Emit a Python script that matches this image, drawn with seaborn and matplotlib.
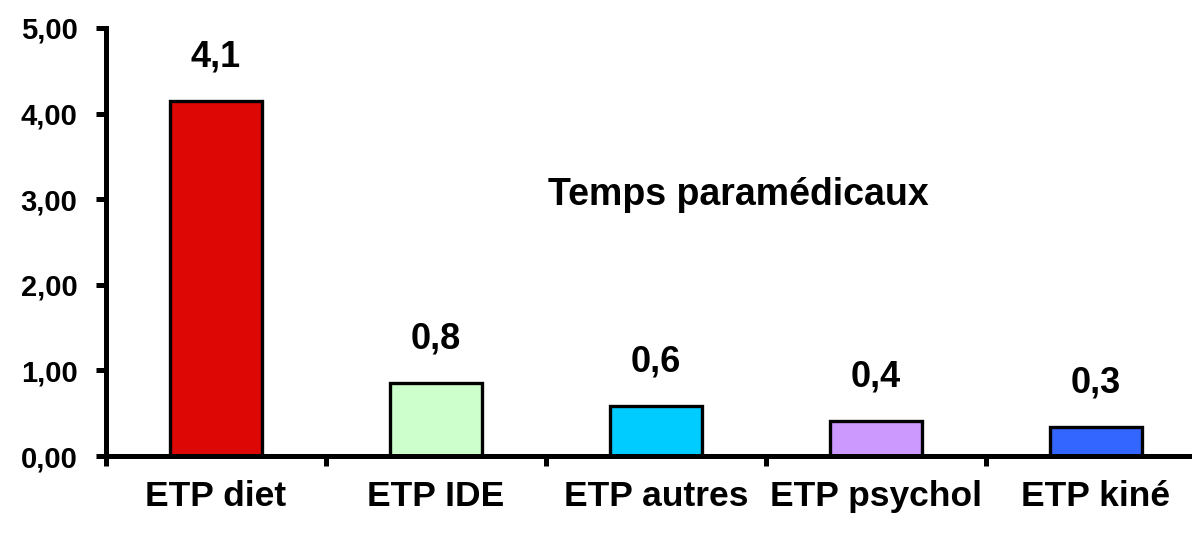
import matplotlib
matplotlib.use("Agg")
import matplotlib.pyplot as plt
import seaborn as sns
import pandas as pd
import numpy as np
from matplotlib.ticker import FixedLocator

categories = ["ETP diet", "ETP IDE", "ETP autres", "ETP psychol", "ETP kiné"]
values = [4.15, 0.85, 0.58, 0.41, 0.34]
value_labels = ["4,1", "0,8", "0,6", "0,4", "0,3"]
colors = ["#DD0805", "#CCFFCC", "#00CCFF", "#CC99FF", "#3366FF"]
ytick_values = [0, 1, 2, 3, 4, 5]
ytick_labels = ["0,00", "1,00", "2,00", "3,00", "4,00", "5,00"]
title = "Temps paramédicaux"

sns.set_theme(style="white")
plt.rcParams["font.family"] = ["Liberation Sans", "DejaVu Sans"]
plt.rcParams["font.weight"] = "bold"
plt.rcParams["text.color"] = "black"
plt.rcParams["xtick.color"] = "black"
plt.rcParams["ytick.color"] = "black"
plt.rcParams["xtick.labelcolor"] = "black"
plt.rcParams["ytick.labelcolor"] = "black"

fig = plt.figure(figsize=(11.92, 5.34), dpi=100)
ax = fig.add_axes([106 / 1192, 78 / 534, 1100 / 1192, 428 / 534])

df = pd.DataFrame({"cat": categories, "val": values})
sns.barplot(data=df, x="cat", y="val", hue="cat", palette=colors, legend=False,
            width=0.42, edgecolor="black", linewidth=2.4, saturation=1, ax=ax)

ax.set_xlim(-0.5, len(categories) - 0.5)
ax.set_ylim(0, 5)
ax.set_xlabel("")
ax.set_ylabel("")

for sp in ["top", "right"]:
    ax.spines[sp].set_visible(False)
for sp in ["left", "bottom"]:
    ax.spines[sp].set_linewidth(3.6)
    ax.spines[sp].set_color("black")

ax.set_yticks(ytick_values)
ax.set_yticklabels(ytick_labels, fontsize=21, fontweight="bold", color="black")
ax.tick_params(axis="y", direction="out", length=7.5, width=3.6, color="black", pad=13, left=True)

ax.set_xticks(range(len(categories)))
ax.set_xticklabels(categories, fontsize=25.5, fontweight="bold", color="black")
ax.tick_params(axis="x", which="major", length=0, pad=17)
ax.xaxis.set_minor_locator(FixedLocator(np.arange(-0.5, len(categories), 1.0)))
ax.tick_params(axis="x", which="minor", direction="out", length=7.5, width=3.6, color="black", bottom=True)

for i, (v, lab) in enumerate(zip(values, value_labels)):
    ax.annotate(lab, (i, v), xytext=(0, 25), textcoords="offset points",
                ha="center", va="baseline", fontsize=26, fontweight="bold", color="black")

ax.text(0.575, 0.61, title, transform=ax.transAxes, ha="center", va="center",
        fontsize=27, fontweight="bold", color="black")

ax.grid(False)
fig.savefig("out.png", dpi=100)
